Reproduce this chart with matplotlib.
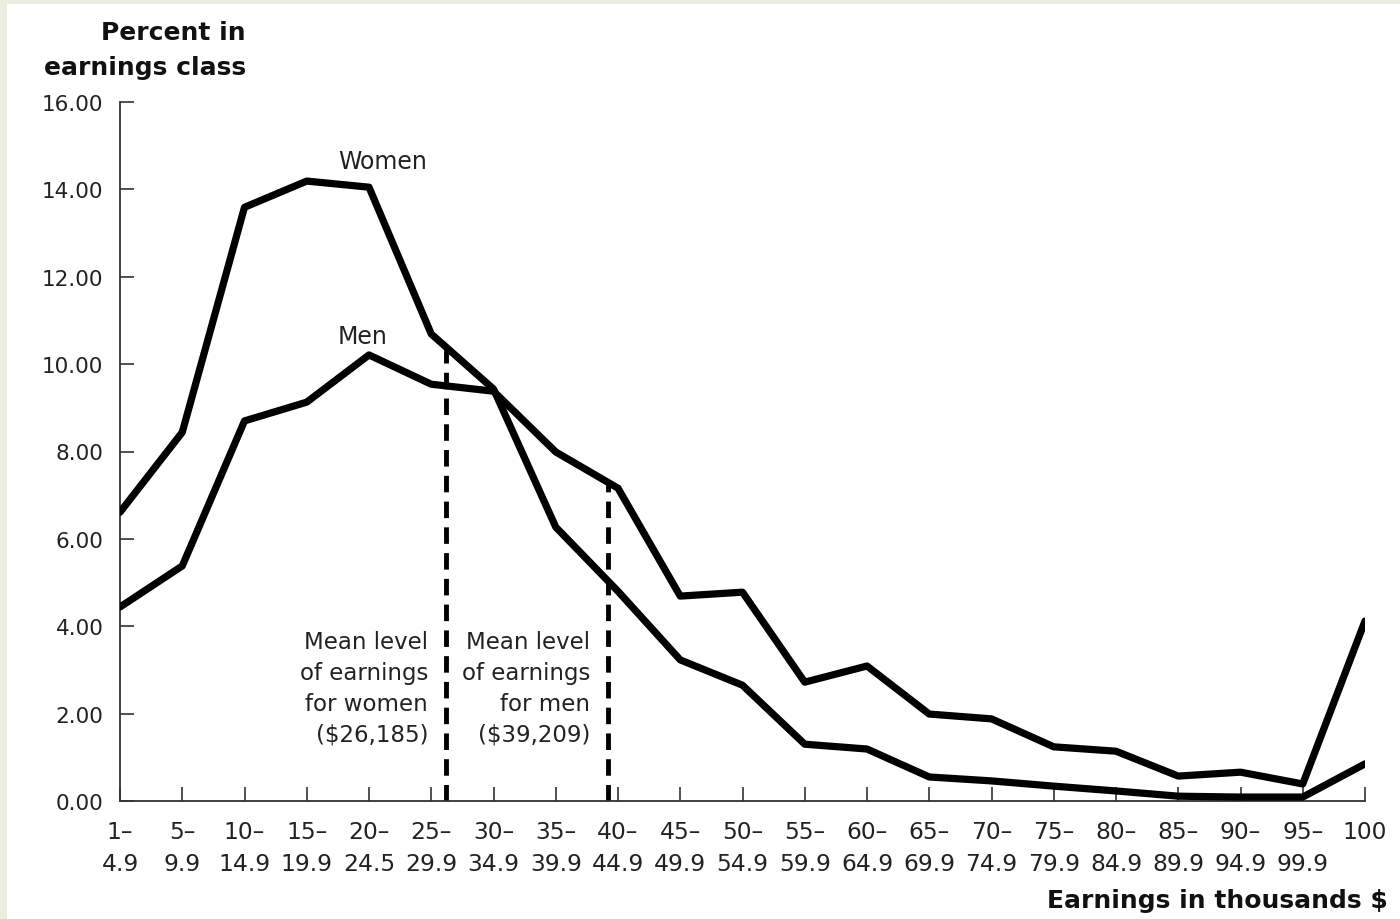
import matplotlib
matplotlib.use("Agg")
import matplotlib.pyplot as plt
from matplotlib.patches import Rectangle
import numpy as np

plt.rcParams['font.family'] = ['DejaVu Sans']

# ---- data ----
class_labels = ["1–\n4.9", "5–\n9.9", "10–\n14.9", "15–\n19.9", "20–\n24.5", "25–\n29.9",
                "30–\n34.9", "35–\n39.9", "40–\n44.9", "45–\n49.9", "50–\n54.9", "55–\n59.9",
                "60–\n64.9", "65–\n69.9", "70–\n74.9", "75–\n79.9", "80–\n84.9", "85–\n89.9",
                "90–\n94.9", "95–\n99.9", "100"]
women = [6.61, 8.44, 13.59, 14.19, 14.05, 10.69, 9.43, 6.27, 4.80, 3.23, 2.65, 1.30,
         1.19, 0.55, 0.46, 0.34, 0.23, 0.11, 0.09, 0.09, 0.85]
men = [4.44, 5.38, 8.70, 9.13, 10.21, 9.54, 9.38, 7.99, 7.16, 4.69, 4.78, 2.72,
       3.09, 1.99, 1.88, 1.24, 1.14, 0.57, 0.66, 0.39, 4.12]
mean_women = 26.185
mean_men = 39.209
y_ticks = [0, 2, 4, 6, 8, 10, 12, 14, 16]

fig = plt.figure(figsize=(14, 9.2), dpi=100)
fig.patch.set_facecolor('#ECECE0')
bg = Rectangle((7 / 1400, 0), 1, 1 - 5 / 920, transform=fig.transFigure,
               facecolor='white', edgecolor='none', zorder=-10)
fig.add_artist(bg)

ax = fig.add_axes([120 / 1400, 1 - 802 / 920, (1365 - 120) / 1400, (802 - 103) / 920])
ax.set_facecolor('none')
ax.set_zorder(5)

x = np.arange(len(class_labels))
ax.plot(x, women, color='black', lw=5.2, solid_joinstyle='round', solid_capstyle='round', zorder=3)
ax.plot(x, men, color='black', lw=5.2, solid_joinstyle='round', solid_capstyle='round', zorder=3)


def class_pos(v):
    # position on the class axis (bins of width 5)
    idx = int(v // 5)
    return idx + (v - 5 * idx) / 5


xw = class_pos(mean_women)
xm = class_pos(mean_men)
yw = np.interp(xw, x, women)
ym = np.interp(xm, x, men)
ax.plot([xw, xw], [0, yw], color='black', lw=3.5, ls=(0, (3.4, 1.9)), dash_capstyle='butt', zorder=2)
ax.plot([xm, xm], [0, ym], color='black', lw=3.5, ls=(0, (3.4, 1.9)), dash_capstyle='butt', zorder=2)

ax.set_xlim(0, 20)
ax.set_ylim(0, 16)
ax.set_xticks(x)
ax.set_xticklabels(class_labels, fontsize=16.8, linespacing=1.5, color='#222222')
ax.set_yticks(y_ticks)
ax.set_yticklabels([f"{v:.2f}" for v in y_ticks], fontsize=15.5, color='#222222')
ax.tick_params(axis='both', direction='in', length=10, width=1.2, color='#333333')
ax.tick_params(axis='x', pad=14)
ax.tick_params(axis='y', pad=12)
for s in ['top', 'right']:
    ax.spines[s].set_visible(False)
for s in ['left', 'bottom']:
    ax.spines[s].set_color('#333333')
    ax.spines[s].set_linewidth(1.3)

ax.text(4.22, 14.64, "Women", fontsize=17, ha='center', va='center', color='#222222')
ax.text(3.9, 10.64, "Men", fontsize=17, ha='center', va='center', color='#222222')
ax.text(4.95, 2.59, "Mean level\nof earnings\nfor women\n($26,185)", fontsize=16.5,
        ha='right', va='center', multialignment='right', linespacing=1.44, color='#222222')
ax.text(7.55, 2.59, "Mean level\nof earnings\nfor men\n($39,209)", fontsize=16.5,
        ha='right', va='center', multialignment='right', linespacing=1.44, color='#222222')

fig.text(246 / 1400, 1 - 50.5 / 920, "Percent in\nearnings class", fontsize=18, fontweight='bold',
         ha='right', va='center', multialignment='right', linespacing=1.55, color='#111111')
fig.text(1388 / 1400, 1 - 901 / 920, "Earnings in thousands $", fontsize=18, fontweight='bold',
         ha='right', va='center', color='#111111')

fig.savefig("out.png", dpi=100, facecolor=fig.get_facecolor())
